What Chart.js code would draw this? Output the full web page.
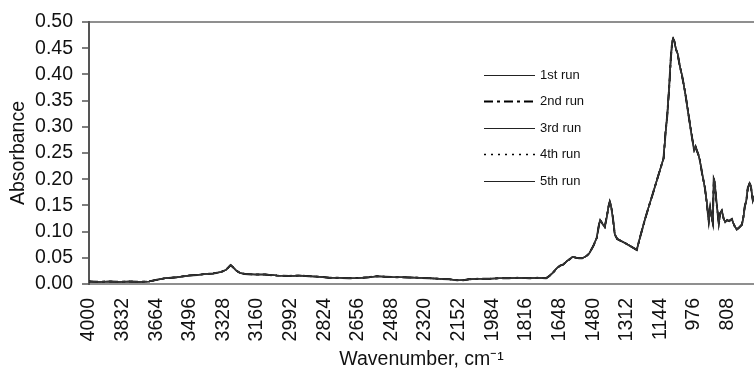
<!DOCTYPE html>
<html><head><meta charset="utf-8">
<script src="https://cdn.jsdelivr.net/npm/chart.js@4"></script>
<style>html,body{margin:0;padding:0;background:#fff}#wrap{width:754px;height:372px}</style>
</head><body><div id="wrap"><canvas id="c" width="754" height="372"></canvas></div>
<script>
// Wavenumber (cm-1), high to low
const wavenumbers = [4000,3950,3900,3850,3800,3750,3700,3660,3620,3560,3500,3460,3420,3380,3340,3315,3300,3292,3280,3265,3245,3220,3170,3120,3060,3000,2950,2900,2850,2800,2750,2700,2650,2600,2560,2520,2480,2440,2400,2350,2300,2250,2200,2160,2130,2100,2050,2000,1950,1900,1850,1800,1750,1715,1700,1680,1662,1645,1630,1610,1595,1582,1565,1550,1535,1515,1500,1480,1462,1450,1445,1432,1422,1412,1402,1397,1390,1382,1372,1360,1340,1320,1297,1275,1262,1245,1222,1200,1182,1160,1140,1128,1118,1110,1100,1092,1085,1080,1074,1066,1058,1048,1037,1028,1020,1008,997,985,975,968,962,955,947,935,922,912,902,895,889,882,877,872,866,860,852,845,837,828,820,810,800,787,775,762,750,737,730,722,714,707,698,692,686,682,676];
// Absorbance (the five runs coincide in the picture)
const absorbance = [0.005,0.004,0.005,0.004,0.005,0.004,0.005,0.008,0.011,0.013,0.016,0.017,0.019,0.020,0.023,0.027,0.033,0.036,0.032,0.026,0.021,0.019,0.018,0.018,0.016,0.0155,0.016,0.015,0.014,0.012,0.012,0.011,0.0115,0.013,0.015,0.014,0.013,0.013,0.0125,0.012,0.011,0.010,0.009,0.007,0.007,0.009,0.010,0.010,0.011,0.011,0.012,0.011,0.012,0.011,0.015,0.022,0.030,0.035,0.037,0.044,0.048,0.052,0.050,0.049,0.049,0.053,0.058,0.072,0.088,0.115,0.122,0.114,0.109,0.128,0.150,0.157,0.148,0.128,0.095,0.086,0.082,0.078,0.073,0.068,0.065,0.090,0.122,0.150,0.172,0.200,0.225,0.240,0.290,0.320,0.375,0.430,0.462,0.468,0.463,0.448,0.440,0.418,0.400,0.382,0.365,0.335,0.307,0.278,0.255,0.262,0.255,0.248,0.237,0.210,0.185,0.155,0.120,0.145,0.130,0.117,0.200,0.195,0.165,0.145,0.114,0.135,0.140,0.125,0.118,0.122,0.120,0.124,0.112,0.104,0.108,0.113,0.125,0.148,0.160,0.183,0.192,0.188,0.170,0.160,0.168];
const runLabels = ['1st run','2nd run','3rd run','4th run','5th run'];
const xTickValues = [4000,3832,3664,3496,3328,3160,2992,2824,2656,2488,2320,2152,1984,1816,1648,1480,1312,1144,976,808];
const yTickValues = [0,0.05,0.10,0.15,0.20,0.25,0.30,0.35,0.40,0.45,0.50];

const FONT = '"Liberation Sans", Arial, sans-serif';
const runStyles = [
  {color:'#333', width:1.5, dash:[], legendWidth:1},
  {color:'#111', width:2, dash:[9,4,3,4], legendWidth:2},
  {color:'#333', width:1.5, dash:[], legendWidth:1},
  {color:'#222', width:1.5, dash:[2,5], legendWidth:1.6},
  {color:'#444', width:1.5, dash:[], legendWidth:1}
];
const points = wavenumbers.map((w,i)=>({x:w, y:absorbance[i]}));
const datasets = runLabels.map((lab,i)=>({
  label:lab, data:points,
  borderColor:runStyles[i].color, borderWidth:runStyles[i].width, borderDash:runStyles[i].dash,
  pointRadius:0, tension:0, fill:false
}));

const innerLegend = {
  id:'innerLegend',
  afterDatasetsDraw(chart){
    const {ctx, chartArea:a} = chart;
    const x0 = a.left + 395, x1 = x0 + 51, y0 = a.top + 53, dy = 26.4;
    ctx.save();
    ctx.font = '13px ' + FONT;
    ctx.textBaseline = 'middle';
    ctx.fillStyle = '#111';
    chart.data.datasets.forEach((ds,i)=>{
      const y = Math.round(y0 + i*dy) + 0.5;
      ctx.beginPath();
      ctx.setLineDash(ds.borderDash || []);
      ctx.lineWidth = runStyles[i].legendWidth;
      ctx.strokeStyle = i === 1 || i === 3 ? '#000' : '#222';
      ctx.moveTo(x0, y); ctx.lineTo(x1, y); ctx.stroke();
      ctx.setLineDash([]);
      ctx.fillText(ds.label, x1 + 5, y);
    });
    ctx.restore();
  }
};

new Chart(document.getElementById('c'), {
  type:'line',
  data:{datasets},
  options:{
    responsive:false, animation:false,
    layout:{padding:{top:22,right:0,bottom:0,left:0}},
    plugins:{legend:{display:false}, tooltip:{enabled:false}},
    scales:{
      x:{
        type:'linear', reverse:true, min:676, max:4000,
        afterBuildTicks: s => { s.ticks = xTickValues.map(v=>({value:v})); },
        afterFit: s => { s.height = 88; s.paddingRight = 0; s.paddingLeft = 0; },
        ticks:{autoSkip:false, minRotation:90, maxRotation:90, padding:14, color:'#111',
               font:{family:FONT, size:19.5}, callback: v => String(v)},
        grid:{display:false, drawTicks:false},
        border:{display:true, color:'#8f8f8f', width:2},
        title:{display:true, text:'Wavenumber, cm⁻¹', color:'#111',
               font:{family:FONT, size:19.5}, padding:{top:0, bottom:1}}
      },
      y:{
        min:0, max:0.5,
        afterBuildTicks: s => { s.ticks = yTickValues.map(v=>({value:v})); },
        afterFit: s => { s.width = 89; },
        ticks:{autoSkip:false, padding:9, color:'#111', font:{family:FONT, size:19.5}, callback: v => Number(v).toFixed(2)},
        grid:{color: c => (c.tick && Math.abs(c.tick.value-0.5)<1e-9) ? '#8f8f8f' : 'rgba(0,0,0,0)',
              lineWidth:2, tickColor:'#555', tickLength:7, tickWidth:1.5},
        border:{display:true, color:'#555', width:2},
        title:{display:true, text:'Absorbance', color:'#111',
               font:{family:FONT, size:19.5}, padding:{top:7, bottom:0}}
      }
    }
  },
  plugins:[innerLegend]
});
</script>
</body></html>
